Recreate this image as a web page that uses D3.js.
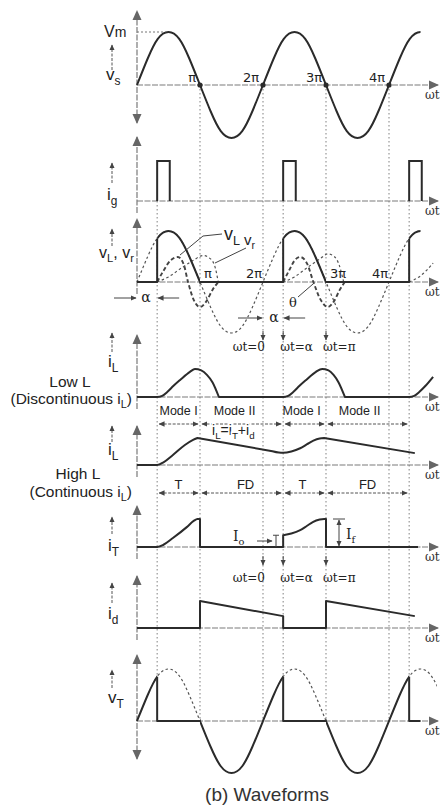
<!DOCTYPE html>
<html>
<head>
<meta charset="utf-8">
<script src="https://cdn.jsdelivr.net/npm/d3@7"></script>
<style>
  body { margin: 0; background: #fff; }
  svg { display: block; }
</style>
</head>
<body>
<svg id="chart" width="443" height="807"></svg>
<script>
// all angles are wt / pi
const alpha = 0.32;
const vAlpha = 0.85;
const piTicks = [1, 2, 3, 4];
const piLabels = ["π", "2π", "3π", "4π"];
const fireTicks = [0.32, 2.32, 4.32];
const gateStarts = [0.32, 2.32, 4.32];
const gateWidth = 0.2;

// supply voltage, per unit of Vm
const vsWave = [[0,0],[0.17,0.5],[0.33,0.87],[0.5,1],[0.67,0.87],[0.83,0.5],[1,0],
  [1.17,-0.5],[1.33,-0.87],[1.5,-1],[1.67,-0.87],[1.83,-0.5],[2,0],
  [2.17,0.5],[2.33,0.87],[2.5,1],[2.67,0.87],[2.83,0.5],[3,0],
  [3.17,-0.5],[3.33,-0.87],[3.5,-1],[3.67,-0.87],[3.83,-0.5],[4,0],
  [4.17,0.5],[4.33,0.87],[4.5,1],[4.67,0.87],[4.83,0.5]];

// conduction intervals
const thyristorOn = [[0.32,1],[2.32,3],[4.32,4.5]];
const blockedOn = [[-0.2,0.32],[1,2.32],[3,4.32]];
const dashedVT = [[0.32,1],[2.32,3],[4.32,4.76]];
const modeSpans = [[0.32,1],[1,2.32],[2.32,3],[3,4.32]];
const modeNames = ["Mode I", "Mode II", "Mode I", "Mode II"];
const stateNames = ["T", "FD", "T", "FD"];

// inductor voltage (bold dashed) and resistor voltage (thin dashed)
const vInd1 = [[0.32,0],[0.42,0.22],[0.53,0.42],[0.65,0.49],[0.74,0.35],[0.81,0],[0.9,-0.35],[1,-0.49],[1.1,-0.38],[1.2,-0.15],[1.29,0]];
const vInd2 = [[2.32,0],[2.42,0.24],[2.5,0.42],[2.59,0.49],[2.7,0.36],[2.8,0],[2.92,-0.36],[3.03,-0.49],[3.13,-0.37],[3.22,-0.15],[3.3,0]];
const vRes1 = [[0.32,0],[0.5,0.1],[0.7,0.27],[0.9,0.43],[1.05,0.52],[1.15,0.47],[1.23,0.33],[1.29,0]];
const vRes2 = [[2.32,0],[2.5,0.1],[2.7,0.28],[2.9,0.45],[3.03,0.55],[3.13,0.5],[3.21,0.33],[3.28,0]];
const vRes3 = [[4.32,0],[4.5,0.12],[4.7,0.37]];

// load current, low L (discontinuous)
const iLow = [
  [[0,0],[0.32,0],[0.4,0.04],[0.48,0.18],[0.58,0.4],[0.68,0.6],[0.84,0.9],[0.92,1],[1.02,0.95],[1.11,0.79],[1.2,0.52],[1.3,0]],
  [[1.3,0],[2.32,0],[2.4,0.04],[2.48,0.18],[2.58,0.4],[2.68,0.6],[2.84,0.9],[2.94,1],[3.04,0.95],[3.12,0.79],[3.2,0.52],[3.3,0]],
  [[3.3,0],[4.32,0],[4.4,0.04],[4.48,0.18],[4.58,0.4],[4.7,0.72]]
];
// load current, high L (continuous)
const iHigh = [
  [[0,0],[0.32,0],[0.42,0.1],[0.57,0.37],[0.76,0.74],[0.89,0.93],[0.96,1]],
  [[0.96,1],[2.15,0.51]],
  [[2.15,0.51],[2.25,0.46],[2.32,0.45],[2.45,0.5],[2.59,0.62],[2.7,0.77],[2.8,0.9],[2.9,0.98],[2.97,1]],
  [[2.97,1],[4.41,0.44]]
];
// thyristor current
const iThy = [
  [[0,0],[0.32,0],[0.42,0.08],[0.57,0.32],[0.79,0.71],[0.9,0.93],[0.96,1],[1,1]],
  [[1,0],[2.32,0]],
  [[2.32,0.42],[2.45,0.48],[2.59,0.6],[2.7,0.76],[2.79,0.89],[2.9,0.98],[2.97,1],[3,1]],
  [[3,0],[4.46,0]]
];
// freewheeling diode current
const iDio = [
  [[0,0],[1,0]],
  [[1,1],[2.32,0.44]],
  [[2.32,0],[3,0]],
  [[3,1],[4.41,0.44]]
];

const W = 443, H = 807;
const axisEnd = 438;
const ink = "#2b2b2b";
const gray = "#7a7a7a";
const sans = "Liberation Sans, Arial, sans-serif";
const serif = "DejaVu Serif, serif";

const x = d3.scaleLinear().domain([0, 4.5]).range([137, 420.5]);

//Panel layout: baseline and pixels per unit
const layout = {
  vs:  { base: 85,  unit: 53, top: 11,  bottom: 123 },
  ig:  { base: 201, unit: 40, top: 137 },
  vL:  { base: 282, unit: 51, top: 219 },
  iLo: { base: 397, unit: 28, top: 335 },
  iHi: { base: 465, unit: 27, top: 426 },
  iT:  { base: 547, unit: 28, top: 506 },
  id:  { base: 628, unit: 27, top: 576 },
  vT:  { base: 721, unit: 52, top: 655, bottom: 759 }
};
const y = {};
Object.keys(layout).forEach(k => {
  y[k] = d3.scaleLinear().domain([0, 1]).range([layout[k].base, layout[k].base - layout[k].unit]);
});

const svg = d3.select("#chart");
const defs = svg.append("defs");

//Arrow heads
const addMarker = (id, size, color) => {
  defs.append("marker").attr("id", id)
    .attr("viewBox", "0 0 10 10").attr("refX", 9).attr("refY", 5)
    .attr("markerWidth", size).attr("markerHeight", size)
    .attr("markerUnits", "userSpaceOnUse")
    .attr("orient", "auto-start-reverse")
    .append("path").attr("d", "M0,0.5 L10,5 L0,9.5 Z").attr("fill", color);
};
addMarker("axisArrow", 10, "#666");
addMarker("smallArrow", 6, "#444");

const addClip = (id, spans) => {
  defs.append("clipPath").attr("id", id)
    .selectAll("rect").data(spans).join("rect")
    .attr("x", d => x(d[0])).attr("width", d => x(d[1]) - x(d[0]))
    .attr("y", 0).attr("height", H);
};
addClip("clipAll", [[-0.2, 4.5]]);
addClip("clipThy", thyristorOn);
addClip("clipBlock", blockedOn);
addClip("clipVTd", dashedVT);

const lineOf = (ys, curve) => d3.line().x(d => x(d[0])).y(d => ys(d[1])).curve(curve || d3.curveLinear);
const joined = (segs, ys) => {
  const gen = lineOf(ys, d3.curveMonotoneX);
  return segs.map((s, i) => i ? "L" + gen(s).slice(1) : gen(s)).join("");
};

const path = (d, opts = {}) => svg.append("path").attr("d", d)
  .attr("fill", "none")
  .attr("stroke", opts.color || ink)
  .attr("stroke-width", opts.width || 2)
  .attr("stroke-dasharray", opts.dash || null)
  .attr("stroke-linejoin", "round")
  .attr("clip-path", opts.clip ? `url(#${opts.clip})` : null);

const seg = (x1, y1, x2, y2, opts = {}) => svg.append("line")
  .attr("x1", x1).attr("y1", y1).attr("x2", x2).attr("y2", y2)
  .attr("stroke", opts.color || gray)
  .attr("stroke-width", opts.width || 1.2)
  .attr("stroke-dasharray", opts.dash || null)
  .attr("marker-end", opts.end ? `url(#${opts.end})` : null)
  .attr("marker-start", opts.start ? `url(#${opts.start})` : null);

//Text with subscripts: parts = [[text, isSub, size]]
const label = (px, py, parts, opts = {}) => {
  const size = opts.size || 15;
  const t = svg.append("text").attr("x", px).attr("y", py)
    .attr("font-family", opts.font || sans)
    .attr("font-size", size)
    .attr("fill", opts.color || "#222")
    .attr("text-anchor", opts.anchor || "start");
  let shift = 0;
  parts.forEach(p => {
    const sub = p[1];
    const target = sub ? Math.round(size * 0.28) : 0;
    t.append("tspan").attr("dy", target - shift)
      .attr("font-size", p[2] || (sub ? size * 0.7 : size))
      .text(p[0]);
    shift = target;
  });
  return t;
};

//Vertical guide lines
piTicks.forEach(t => seg(x(t), y.vs(0), x(t), y.vT(0), { dash: "1.5,2.5", color: "#8c8c8c", width: 1.1 }));
fireTicks.forEach(t => seg(x(t), y.ig(0), x(t), y.vT(vAlpha), { dash: "1.5,2.5", color: "#8c8c8c", width: 1.1 }));

//Axes
Object.keys(layout).forEach(k => {
  const p = layout[k];
  seg(x(0), p.base, axisEnd, p.base, { end: "axisArrow", dash: "6,1.5", color: gray });
  if (p.bottom) seg(x(0), p.bottom, x(0), p.top, { end: "axisArrow", start: "axisArrow", dash: "6,1.5", color: gray });
  else seg(x(0), p.base + 12, x(0), p.top, { end: "axisArrow", dash: "6,1.5", color: gray });
  label(425, p.base + 14, [["ωt", false]], { font: serif, size: 12, color: "#333" });
});

// ---- panel 1: vs ----
path(lineOf(y.vs, d3.curveNatural)(vsWave), { clip: "clipAll" });
seg(x(0), y.vs(1), x(0.45), y.vs(1), { dash: "2,2", color: "#777" });
svg.selectAll("circle.zero").data(piTicks).join("circle")
  .attr("cx", d => x(d)).attr("cy", y.vs(0)).attr("r", 2.6).attr("fill", ink);
piTicks.forEach((t, i) => label(x(t) - 4, y.vs(0) - 3, [[piLabels[i], false]], { anchor: "end", size: 13, font: "DejaVu Sans, sans-serif" }));
label(104, 37, [["V", false], ["m", false, 14]], { size: 16 });
label(106, 80, [["v", false], ["s", true]], { size: 17 });

// ---- panel 2: gate pulses ----
svg.selectAll("path.gate").data(gateStarts).join("path")
  .attr("d", s => `M${x(s)},${y.ig(0)}V${y.ig(1)}H${x(s + gateWidth)}V${y.ig(0)}`)
  .attr("fill", "none").attr("stroke", ink).attr("stroke-width", 2);
label(107, 200, [["i", false], ["g", true]], { size: 17 });

// ---- panel 3: vL, vr ----
path(lineOf(y.vL, d3.curveNatural)(vsWave), { clip: "clipAll", dash: "2.5,2.5", width: 1.2, color: "#555" });
[vInd1, vInd2].forEach(d => path(lineOf(y.vL, d3.curveMonotoneX)(d), { dash: "4,2.5", width: 1.9, color: "#444" }));
[vRes1, vRes2, vRes3].forEach(d => path(lineOf(y.vL, d3.curveMonotoneX)(d), { dash: "2.5,2.5", width: 1.2, color: "#555" }));
path(lineOf(y.vL, d3.curveNatural)(vsWave), { clip: "clipThy" });
[[[0,0],[alpha,0],[alpha,vAlpha]], [[1,0],[2 + alpha,0],[2 + alpha,vAlpha]], [[3,0],[4 + alpha,0],[4 + alpha,vAlpha]]]
  .forEach(d => path(lineOf(y.vL)(d)));
const piAnchor = ["start", "end", "start", "end"];
piTicks.forEach((t, i) => label(x(t) + (piAnchor[i] === "start" ? 4 : -1), y.vL(0) - 4, [[piLabels[i], false]],
  { anchor: piAnchor[i], size: 13, font: "DejaVu Sans, sans-serif" }));
label(99, 258, [["v", false], ["L", true], [", v", false], ["r", true]], { size: 16 });
label(224, 240, [["v", false], ["L", true]], { size: 18 });
label(244, 245, [["v", false], ["r", true]], { size: 15 });
svg.append("polyline").attr("points", "222,234 203,236 180,255")
  .attr("fill", "none").attr("stroke", "#444").attr("stroke-width", 1);
seg(246, 248, 215, 263, { color: "#444", width: 1 });
// alpha markers
seg(x(0) - 23, 298, x(0) - 1, 298, { end: "smallArrow", color: "#444", width: 1 });
seg(x(alpha) + 22, 298, x(alpha) + 1, 298, { end: "smallArrow", color: "#444", width: 1 });
label(146, 302, [["α", false]], { anchor: "middle", font: serif, size: 14 });
seg(x(2) - 25, 318, x(2) - 1, 318, { end: "smallArrow", color: "#444", width: 1 });
seg(x(2 + alpha) + 22, 318, x(2 + alpha) + 1, 318, { end: "smallArrow", color: "#444", width: 1 });
label(274, 322, [["α", false]], { anchor: "middle", font: serif, size: 14 });
label(293, 307, [["θ", false]], { anchor: "middle", font: serif, size: 13 });
seg(298, 297, 313, 284, { color: "#444", width: 1 });

//wt markers
const wtRow = (ty, ay) => {
  [2, 2 + alpha, 3].forEach(t => seg(x(t), ay, x(t), ay + 9, { end: "smallArrow", color: "#444", width: 1 }));
  label(x(2) + 2, ty, [["ωt=0", false]], { anchor: "end", font: serif, size: 12 });
  label(x(2 + alpha) - 3, ty, [["ωt=α", false]], { font: serif, size: 12 });
  label(x(3) - 3, ty, [["ωt=π", false]], { font: serif, size: 12 });
};
wtRow(351, 331);

// ---- panel 4: iL low L ----
path(joined(iLow, y.iLo));
label(108, 367, [["i", false], ["L", true]], { size: 17 });
label(70, 387, [["Low L", false]], { anchor: "middle", size: 15.5 });
label(132, 404, [["(Discontinuous i", false], ["L", true], [")", false]], { anchor: "end", size: 15.5 });

//Span arrows
const spanRow = (names, ty, ay, size, nudge) => {
  modeSpans.forEach((s, i) => {
    seg(x(s[0]) + 2, ay, x(s[1]) - 2, ay, { end: "smallArrow", start: "smallArrow", dash: "3,1.5", color: "#555", width: 1 });
    label((x(s[0]) + x(s[1])) / 2 + nudge[i], ty, [[names[i], false]], { anchor: "middle", size: size });
  });
};
spanRow(modeNames, 415, 424, 12.5, [0, -7, -3, -8]);
const sumLabel = label(212, 435, [["i", false], ["L", true], ["=i", false], ["T", true], ["+i", false], ["d", true]], { size: 14 });
sumLabel.attr("stroke", "#fff").attr("stroke-width", 3).attr("paint-order", "stroke");

// ---- panel 5: iL high L ----
path(joined(iHigh, y.iHi));
label(108, 455, [["i", false], ["L", true]], { size: 17 });
label(78, 479, [["High L", false]], { anchor: "middle", size: 15.5 });
label(132, 497, [["(Continuous i", false], ["L", true], [")", false]], { anchor: "end", size: 15.5 });
spanRow(stateNames, 489, 493, 13, [0, 4, -2, 0]);

// ---- panel 6: iT ----
path(joined(iThy, y.iT));
label(108, 551, [["i", false], ["T", true]], { size: 17 });
label(233, 541, [["I", false], ["o", true]], { font: serif, size: 14 });
seg(257, 541, 272, 541, { end: "smallArrow", color: "#444", width: 1 });
seg(276, y.iT(0.42), 276, y.iT(0), { color: "#444", width: 1 });
seg(273, y.iT(0.42), 279, y.iT(0.42), { color: "#444", width: 1 });
seg(x(3) + 13, y.iT(0.5), x(3) + 13, y.iT(1) + 1, { end: "smallArrow", color: "#444", width: 1 });
seg(x(3) + 13, y.iT(0.5), x(3) + 13, y.iT(0) - 1, { end: "smallArrow", color: "#444", width: 1 });
seg(x(3) + 7, y.iT(1), x(3) + 19, y.iT(1), { color: "#444", width: 1 });
label(346, 539, [["I", false], ["f", true]], { font: serif, size: 14 });
wtRow(582, 556);

// ---- panel 7: id ----
path(joined(iDio, y.id));
label(108, 619, [["i", false], ["d", true]], { size: 17 });

// ---- panel 8: vT ----
path(lineOf(y.vT, d3.curveNatural)(vsWave), { clip: "clipVTd", dash: "2.5,2.5", width: 1.2, color: "#555" });
path(lineOf(y.vT, d3.curveNatural)(vsWave), { clip: "clipBlock" });
[[[alpha,vAlpha],[alpha,0],[1,0]], [[2 + alpha,vAlpha],[2 + alpha,0],[3,0]], [[4 + alpha,vAlpha],[4 + alpha,0],[4.5,0]]]
  .forEach(d => path(lineOf(y.vT)(d)));
label(108, 703, [["v", false], ["T", true]], { size: 17 });

//Label arrows on the left
[[70, 45], [183, 163], [246, 229], [352, 333], [442, 426], [534, 517], [603, 583], [688, 670]]
  .forEach(a => seg(112, a[0], 112, a[1], { end: "smallArrow", dash: "3,1.5", color: "#555", width: 1 }));

//Caption
label(267, 801, [["(b) Waveforms", false]], { anchor: "middle", size: 19, color: "#333" });
</script>
</body>
</html>
